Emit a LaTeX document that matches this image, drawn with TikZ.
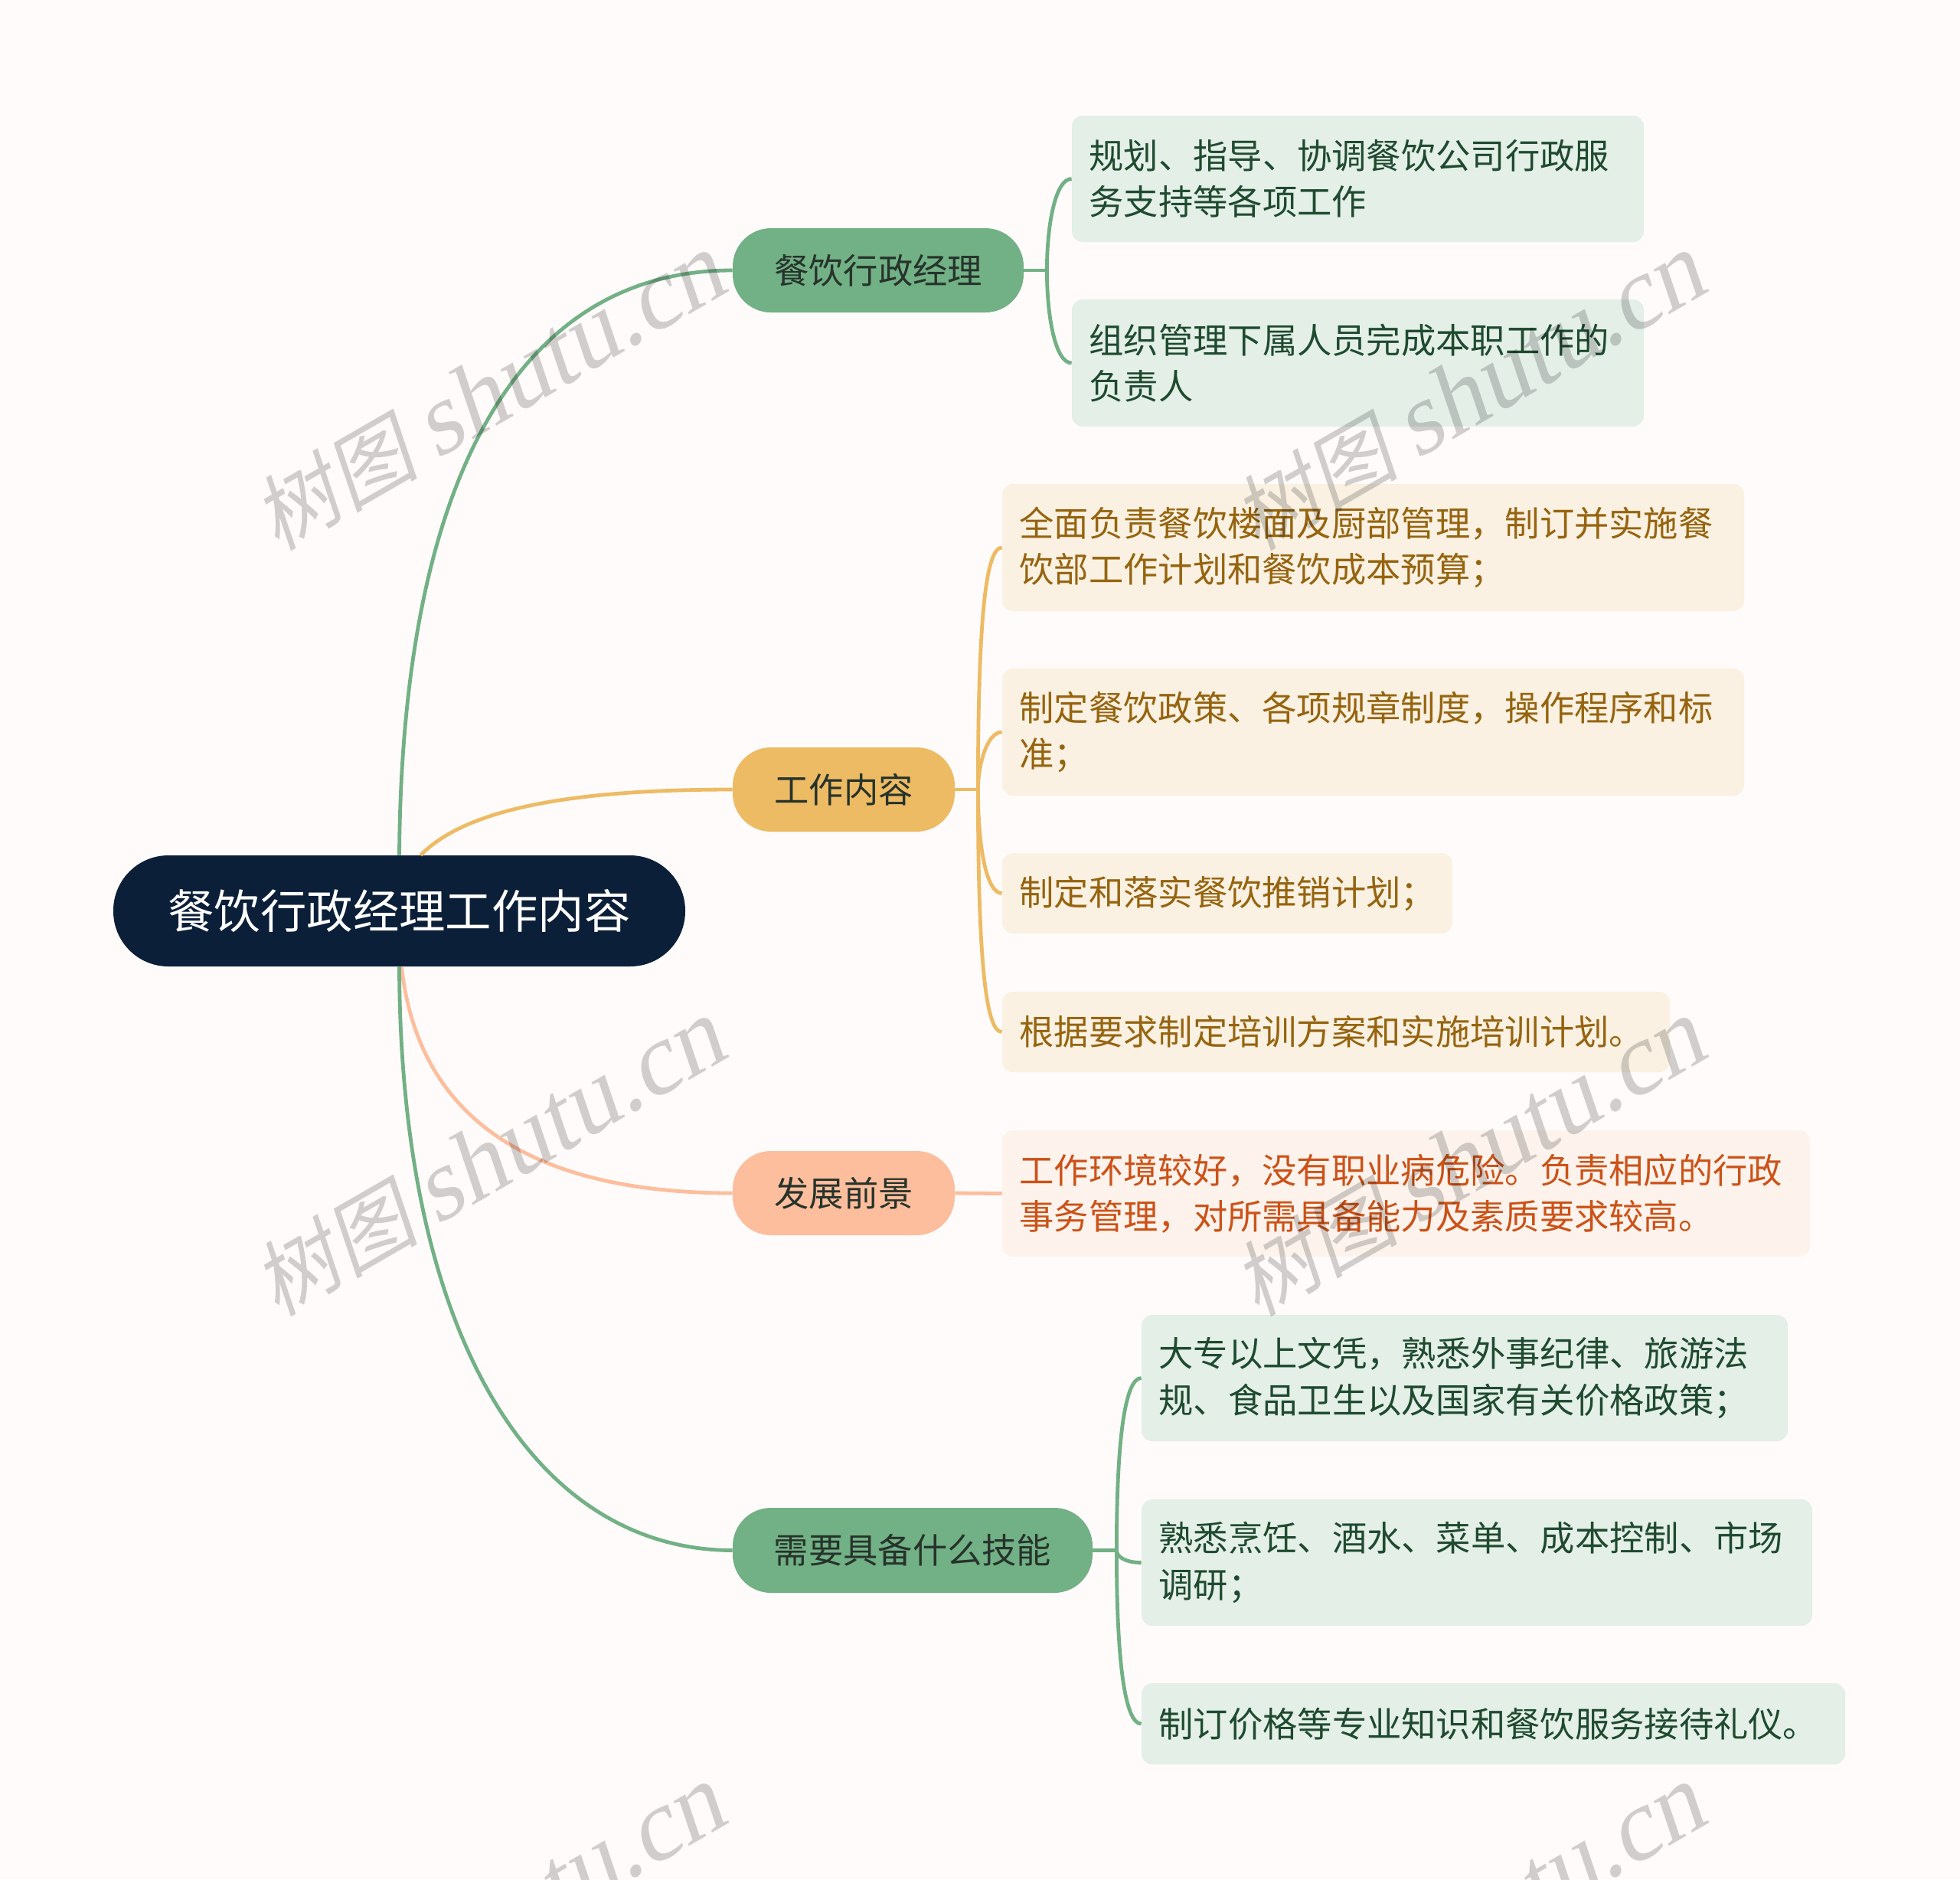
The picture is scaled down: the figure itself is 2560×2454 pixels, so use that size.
\documentclass[tikz,border=0pt]{standalone}
\usepackage{fontspec}
\usetikzlibrary{calc}
\setmainfont{Noto Sans CJK SC}
\newfontfamily\wmcjk[FakeSlant=0.2]{Noto Sans CJK SC}
\newfontfamily\wmlat[FakeSlant=0.2]{Liberation Serif}
\definecolor{bgc}{HTML}{FEFBFA}
\definecolor{rootc}{HTML}{0B1F38}
\definecolor{grn}{HTML}{72B085}
\definecolor{amb}{HTML}{EDBB64}
\definecolor{pch}{HTML}{FDBE9D}
\definecolor{grnf}{HTML}{E3EFE7}
\definecolor{ambf}{HTML}{FAF1E2}
\definecolor{pchf}{HTML}{FDF3EC}
\definecolor{grnt}{HTML}{1F4A2F}
\definecolor{ambt}{HTML}{96640F}
\definecolor{pcht}{HTML}{CC5218}
\definecolor{brt}{HTML}{26332B}
\tikzset{
  basebox/.style={inner sep=0pt,align=left,font=\fontsize{22.65pt}{30.2pt}\selectfont},
  leafg/.style={basebox,fill=grnf,text=grnt,rounded corners=7pt},
  leafa/.style={basebox,fill=ambf,text=ambt,rounded corners=7pt},
  leafp/.style={basebox,fill=pchf,text=pcht,rounded corners=7pt},
  brg/.style={basebox,fill=grn,text=brt,rounded corners=25pt,align=center},
  bra/.style={basebox,fill=amb,text=brt,rounded corners=25pt,align=center},
  brp/.style={basebox,fill=pch,text=brt,rounded corners=25pt,align=center},
  rootbox/.style={inner sep=0pt,align=center,fill=rootc,text=white,rounded corners=36pt,font=\fontsize{30.2pt}{36pt}\selectfont},
  lg/.style={draw=grn,line width=2.4pt},
  la/.style={draw=amb,line width=2.4pt},
  lp/.style={draw=pch,line width=2.4pt},
  wm/.style={rotate=30,inner sep=0pt,text=black,opacity=.18}
}
\newcommand\bx[7]{%
  \node[#6,minimum width={(#4-#2)*0.5pt},minimum height={(#5-#3)*0.5pt},text width={(#4-#2)*0.5pt-22.5pt}] (#1) at ({(#2+#4)/2},{(#3+#5)/2}) {#7};}
\newcommand\pill[7]{%
  \node[#6,minimum width={(#4-#2)*0.5pt},minimum height={(#5-#3)*0.5pt}] (#1) at ({(#2+#4)/2},{(#3+#5)/2}) {#7};}
% style, spine coordinate, child node, vertical pull in reference pixels
\newcommand\limb[4]{%
  \draw[#1] (#2) .. controls ($(#2 |- #3.west)+(0,#4)$) and ($(#2 |- #3.west)+(11,0)$) .. (#3.west);}
\begin{document}
\begin{tikzpicture}[x=0.5pt,y=-0.5pt]
\fill[bgc] (0,0) rectangle (2560,2454);
\useasboundingbox (0,0) rectangle (2560,2454);
\clip (0,0) rectangle (2560,2454);
\pill{root}{148}{1117}{895}{1262}{rootbox}{餐饮行政经理工作内容}
\pill{b1}{957}{298}{1337}{408}{brg}{餐饮行政经理}
\pill{b2}{957}{976}{1247}{1086}{bra}{工作内容}
\pill{b3}{957}{1503}{1247}{1613}{brp}{发展前景}
\pill{b4}{957}{1969}{1427}{2080}{brg}{需要具备什么技能}
\bx{c11}{1400}{151}{2147}{316}{leafg}{规划、指导、协调餐饮公司行政服\\务支持等各项工作}
\bx{c12}{1400}{391}{2147}{557}{leafg}{组织管理下属人员完成本职工作的\\负责人}
\bx{c21}{1309}{632}{2278}{798}{leafa}{全面负责餐饮楼面及厨部管理，制订并实施餐\\饮部工作计划和餐饮成本预算；}
\bx{c22}{1309}{873}{2278}{1039}{leafa}{制定餐饮政策、各项规章制度，操作程序和标\\准；}
\bx{c23}{1309}{1114}{1897}{1219}{leafa}{制定和落实餐饮推销计划；}
\bx{c24}{1309}{1295}{2181}{1400}{leafa}{根据要求制定培训方案和实施培训计划。}
\bx{c31}{1309}{1476}{2364}{1641}{leafp}{工作环境较好，没有职业病危险。负责相应的行政\\事务管理，对所需具备能力及素质要求较高。}
\bx{c41}{1491}{1717}{2335}{1882}{leafg}{大专以上文凭，熟悉外事纪律、旅游法\\规、食品卫生以及国家有关价格政策；}
\bx{c42}{1491}{1958}{2367}{2123}{leafg}{熟悉烹饪、酒水、菜单、成本控制、市场\\调研；}
\bx{c43}{1491}{2198}{2410}{2304}{leafg}{制订价格等专业知识和餐饮服务接待礼仪。}
% main curves
\draw[lg] (root.north) .. controls (525,620) and (680,353) .. (b1.west);
\draw[la] ($(root.north)+(28,0)$) .. controls (610,1055) and (750,1031) .. (b2.west);
\draw[lp] ($(root.south)+(3,0)$) .. controls (545,1450) and (680,1558) .. (b3.west);
\draw[lg] (root.south) .. controls (523,1750) and (700,2024) .. (b4.west);
% stubs and limbs
\draw[lg] (b1.east) -- ++(30,0) coordinate (s1);
\draw[la] (b2.east) -- ++(30,0) coordinate (s2);
\draw[lp] (b3.east) -- (c31.west);
\draw[lg] (b4.east) -- ++(31,0) coordinate (s4);
\limb{lg}{s1}{c11}{60}
\limb{lg}{s1}{c12}{-60}
\limb{la}{s2}{c21}{85}
\limb{la}{s2}{c22}{45}
\limb{la}{s2}{c23}{-60}
\limb{la}{s2}{c24}{-85}
\limb{lg}{s4}{c41}{80}
\limb{lg}{s4}{c42}{-8}
\limb{lg}{s4}{c43}{-80}
% watermark
\foreach \i/\j/\n in {0/0/wa,1/0/wb,0/1/wc,1/1/wd,0/2/we,1/2/wf}{
  \node[wm] (\n) at ({638+1280*\i},{514+1000*\j}) {{\fontsize{54pt}{60pt}\wmcjk\selectfont 树图}\hspace{12pt}{\fontsize{66pt}{60pt}\wmlat\selectfont shutu.cn}};
}
\end{tikzpicture}
\end{document}
